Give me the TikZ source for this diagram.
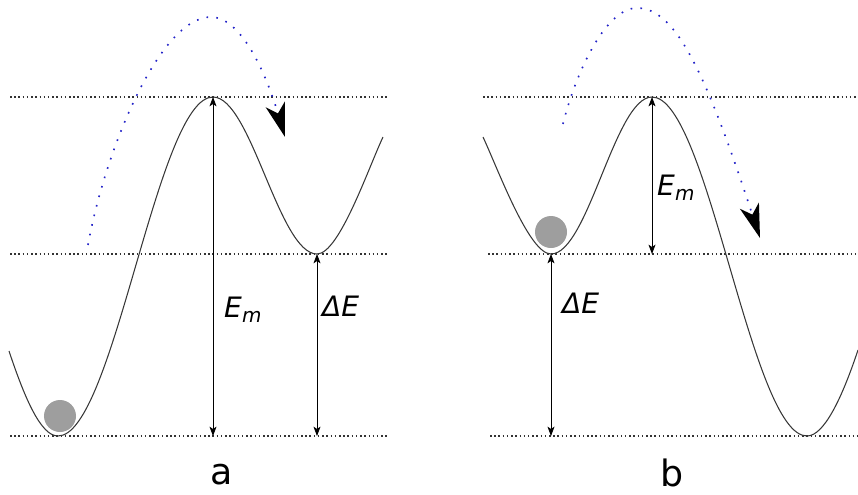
\documentclass[tikz,border=0pt]{standalone}
\usepackage{fontspec}
\setmainfont{DejaVu Sans}
\usetikzlibrary{arrows.meta}
\definecolor{hopblue}{RGB}{35,35,200}
\definecolor{ballgrey}{RGB}{158,158,158}
\definecolor{linegrey}{RGB}{55,55,55}
\newcommand{\Em}{E\raisebox{-5pt}{\fontsize{17}{17}\selectfont m}}

\begin{document}
\begin{tikzpicture}[x=0.03cm, y=-0.03cm,
    level/.style={line width=1.3pt, dash pattern=on 1.3pt off 2.3pt, black!80},
    curve/.style={line width=0.9pt, linegrey},
    dim/.style={{Stealth[length=8pt,width=6pt,inset=2pt]}-{Stealth[length=8pt,width=6pt,inset=2pt]}, line width=0.7pt},
    hop/.style={hopblue, line width=1.4pt, dash pattern=on 1.4pt off 7pt,
                -{Stealth[length=29pt,width=17pt,inset=8pt,black]}},
    ball/.style={circle, fill=ballgrey, inner sep=0pt, minimum size=0.96cm},
    lbl/.style={font=\fontsize{24}{24}\selectfont\itshape, inner sep=0pt, anchor=base west},
    panel/.style={font=\fontsize{31}{31}\selectfont, inner sep=0pt, anchor=base}
]
\useasboundingbox (0,0) rectangle (858,494);

% panel a
\coordinate (a-start) at (9,351);
\coordinate (a-min) at (58,436);
\coordinate (a-top) at (213,97);
\coordinate (a-well) at (317,254);
\coordinate (a-end) at (383,137);
\coordinate (a-from) at (88,245);
\coordinate (a-peak) at (211,17);
\coordinate (a-to) at (285,137);

\draw[level] (10,97) -- (387,97);
\draw[level] (10,254) -- (387,254);
\draw[level] (10,436) -- (387,436);

\draw[curve] (a-start) .. controls +(16,48) and +(-17,0) .. (a-min)
    .. controls +(56,0) and +(-56,0) .. (a-top)
    .. controls +(38,0) and +(-38,0) .. (a-well)
    .. controls +(22,0) and +(-15,32) .. (a-end);

\node[ball] (a-ball) at (60,416) {};

\draw[dim] (a-top) -- (a-top |- a-min);
\draw[dim] (a-well) -- (a-well |- a-min);
\node[lbl] (a-em) at (224,317) {\Em};
\node[lbl] (a-de) at (322,316) {ΔE};

\draw[hop] (a-from) .. controls +(17,-95) and +(-51,0) .. (a-peak)
    .. controls +(29,0) and +(-20,-67) .. (a-to);

\node[panel] (a-name) at (222,484) {a};

% panel b
\coordinate (b-start) at (483,137);
\coordinate (b-min) at (551,254);
\coordinate (b-top) at (652,97);
\coordinate (b-well) at (807,436);
\coordinate (b-end) at (858,350);
\coordinate (b-from) at (563,124);
\coordinate (b-peak) at (637,8);
\coordinate (b-to) at (760,238);

\draw[level] (483,97) -- (858,97);
\draw[level] (488,254) -- (858,254);
\draw[level] (490,436) -- (858,436);

\draw[curve] (b-start) .. controls +(15,32) and +(-22,0) .. (b-min)
    .. controls +(37,0) and +(-37,0) .. (b-top)
    .. controls +(56,0) and +(-56,0) .. (b-well)
    .. controls +(17,0) and +(-16,48) .. (b-end);

\node[ball] (b-ball) at (551,232) {};

\draw[dim] (b-top) -- (b-top |- b-min);
\draw[dim] (b-min) -- (b-min |- b-well);
\node[lbl] (b-em) at (657,195) {\Em};
\node[lbl] (b-de) at (562,313) {ΔE};

\draw[hop] (b-from) .. controls +(12,-49) and +(-32,0) .. (b-peak)
    .. controls +(38,0) and +(-55,-168) .. (b-to);

\node[panel] (b-name) at (672,486) {b};
\end{tikzpicture}
\end{document}
